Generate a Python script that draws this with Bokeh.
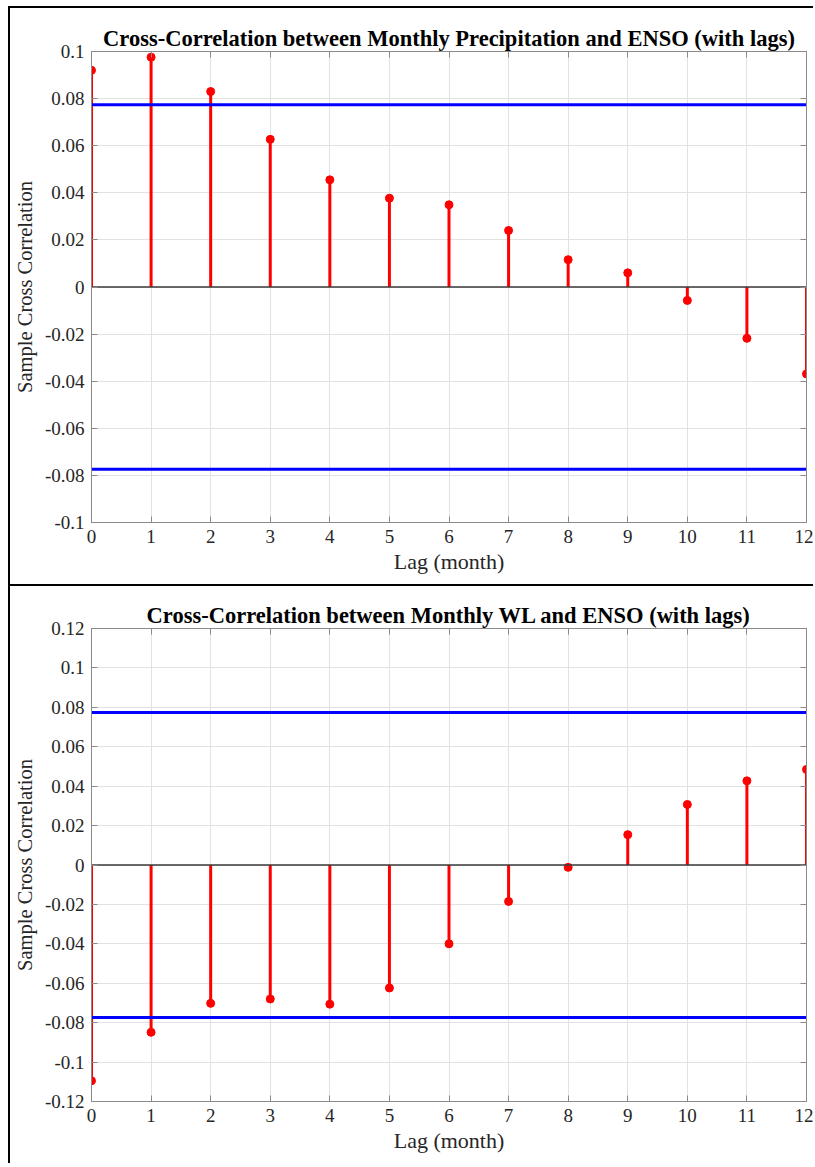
from bokeh.plotting import figure
from bokeh.models import LinearAxis, Span, FixedTicker, Range1d, ColumnDataSource
from bokeh.layouts import column
from bokeh.embed import file_html
from bokeh.resources import INLINE

# ---------------- data ----------------
lags = [0, 1, 2, 3, 4, 5, 6, 7, 8, 9, 10, 11, 12]
precip_xcorr = [0.0920, 0.0976, 0.0830, 0.0627, 0.0455, 0.0377, 0.0349,
                0.0240, 0.0116, 0.0060, -0.0057, -0.0218, -0.0369]
wl_xcorr = [-0.1095, -0.0849, -0.0702, -0.0680, -0.0706, -0.0624, -0.0400,
            -0.0185, -0.0012, 0.0154, 0.0307, 0.0427, 0.0485]
conf_bound = 0.0774

x_tick_labels = ["0", "1", "2", "3", "4", "5", "6", "7", "8", "9", "10", "11", "12"]
precip_yticks = [-0.1, -0.08, -0.06, -0.04, -0.02, 0, 0.02, 0.04, 0.06, 0.08, 0.1]
precip_ytick_labels = ["-0.1", "-0.08", "-0.06", "-0.04", "-0.02", "0",
                       "0.02", "0.04", "0.06", "0.08", "0.1"]
wl_yticks = [-0.12, -0.1, -0.08, -0.06, -0.04, -0.02, 0, 0.02, 0.04, 0.06, 0.08, 0.1, 0.12]
wl_ytick_labels = ["-0.12", "-0.1", "-0.08", "-0.06", "-0.04", "-0.02", "0",
                   "0.02", "0.04", "0.06", "0.08", "0.1", "0.12"]

titles = ["Cross-Correlation between Monthly Precipitation and ENSO (with lags)",
          "Cross-Correlation between Monthly WL and ENSO (with lags)"]
x_label = "Lag (month)"
y_label = "Sample Cross Correlation"

FONT = "Liberation Serif"
AXIS_COL = "#8a8a8a"
TEXT_COL = "#262626"


def style_axis(ax, ticks, labels=None, show_labels=True):
    ax.ticker = FixedTicker(ticks=ticks)
    ax.axis_line_color = AXIS_COL
    ax.axis_line_width = 1
    ax.major_tick_line_color = AXIS_COL
    ax.major_tick_in = 6
    ax.major_tick_out = 0
    ax.minor_tick_in = 0
    ax.minor_tick_out = 0
    ax.major_label_text_font = FONT
    ax.major_label_text_color = TEXT_COL
    if show_labels:
        ax.major_label_text_font_size = "19px"
        ax.major_label_standoff = 7
        if labels is not None:
            ax.major_label_overrides = {t: l for t, l in zip(ticks, labels)}
    else:
        ax.major_label_text_font_size = "0px"
        ax.major_label_text_color = None
        ax.major_label_standoff = 0
        ax.axis_label_standoff = 0


def make_panel(title, values, yticks, ylabels, height, b_top, b_bottom, b_right):
    p = figure(width=805, height=height,
               x_range=Range1d(0, 12), y_range=Range1d(yticks[0], yticks[-1]),
               output_backend="svg", toolbar_location=None,
               min_border_left=80, min_border_right=b_right,
               min_border_top=b_top, min_border_bottom=b_bottom,
               title=title,
               styles={"border-top": "2px solid black", "border-left": "2px solid black"})
    p.title.text_font = FONT
    p.title.text_font_size = "22.5px"
    p.title.text_font_style = "bold"
    p.title.text_color = "black"
    p.title.align = "center"
    p.title.standoff = 2
    p.outline_line_color = AXIS_COL
    p.background_fill_color = "white"
    p.border_fill_color = "white"

    style_axis(p.xaxis[0], lags, x_tick_labels)
    style_axis(p.yaxis[0], yticks, ylabels)
    p.xaxis.axis_label = x_label
    p.yaxis.axis_label = y_label
    for ax in (p.xaxis[0], p.yaxis[0]):
        ax.axis_label_text_font = FONT
        ax.axis_label_text_font_style = "normal"
        ax.axis_label_text_color = TEXT_COL
    p.xaxis.axis_label_text_font_size = "22px"
    p.yaxis.axis_label_text_font_size = "20.5px"
    p.xaxis.axis_label_standoff = 3
    p.yaxis.axis_label_standoff = 6

    top_ax = LinearAxis()
    style_axis(top_ax, lags, show_labels=False)
    p.add_layout(top_ax, "above")
    right_ax = LinearAxis()
    style_axis(right_ax, yticks, show_labels=False)
    p.add_layout(right_ax, "right")

    p.xgrid.ticker = FixedTicker(ticks=lags)
    p.ygrid.ticker = FixedTicker(ticks=yticks)
    p.grid.grid_line_color = "#e2e2e2"
    p.grid.grid_line_width = 1

    for yv in (conf_bound, -conf_bound):
        p.add_layout(Span(location=yv, dimension="width", line_color="#0000ff",
                          line_width=3, level="glyph"))
    p.add_layout(Span(location=0, dimension="width", line_color="#3a3a3a",
                      line_width=1.5, level="glyph"))

    src = ColumnDataSource(dict(lag=lags, val=values, base=[0] * len(lags)))
    p.segment(x0="lag", y0="base", x1="lag", y1="val", source=src,
              line_color="#ff0000", line_width=3)
    p.scatter(x="lag", y="val", source=src, size=8, fill_color="#ff0000",
              line_color="#ff0000")
    return p


p1 = make_panel(titles[0], precip_xcorr, precip_yticks, precip_ytick_labels,
                height=578, b_top=43, b_bottom=64, b_right=9)
p2 = make_panel(titles[1], wl_xcorr, wl_yticks, wl_ytick_labels,
                height=579, b_top=42, b_bottom=64, b_right=5)

layout = column(p1, p2, spacing=0, margin=(6, 0, 0, 8))
open("out.html", "w").write(file_html(layout, INLINE))
